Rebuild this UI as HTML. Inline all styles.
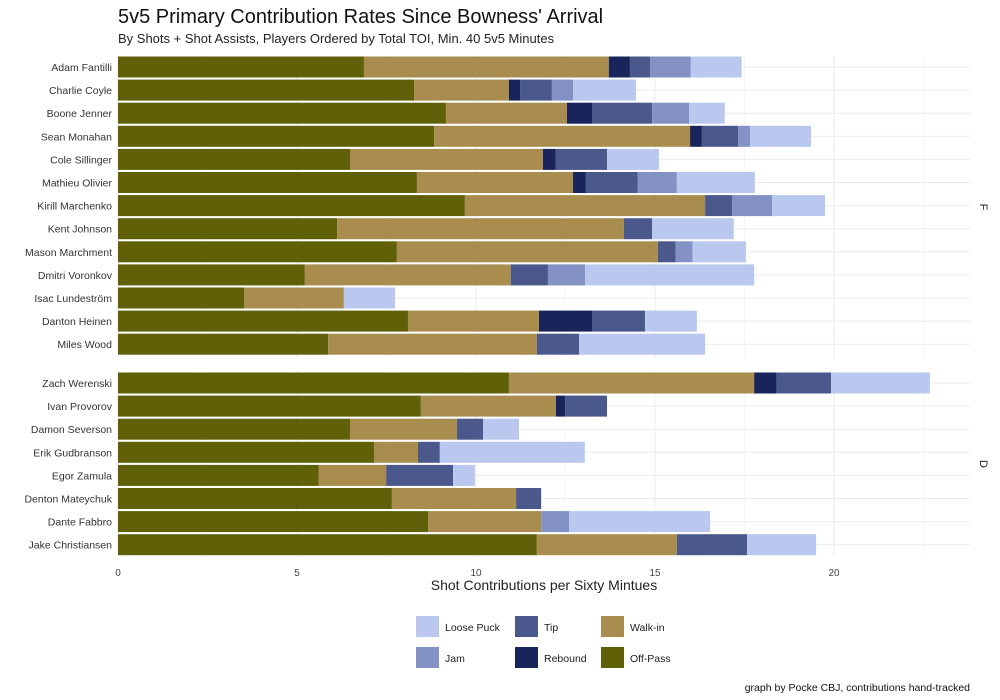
<!DOCTYPE html>
<html><head><meta charset="utf-8">
<style>
body{margin:0;background:#fff;font-family:"Liberation Sans",Arial,sans-serif;}
svg{display:block}
</style></head>
<body>
<svg id="chart" width="1000" height="700" xmlns="http://www.w3.org/2000/svg" font-family="Liberation Sans, Arial, sans-serif">
  <text x="118" y="23" font-size="20" fill="#111">5v5 Primary Contribution Rates Since Bowness' Arrival</text>
  <text x="118" y="43" font-size="13" fill="#222">By Shots + Shot Assists, Players Ordered by Total TOI, Min. 40 5v5 Minutes</text>
  <g id="grid"></g>
  <g id="bars"></g>
  <g id="labels"></g>
  <text x="980" y="207" font-size="11" fill="#222" transform="rotate(90 980 207)" text-anchor="middle">F</text>
  <text x="980" y="464" font-size="11" fill="#222" transform="rotate(90 980 464)" text-anchor="middle">D</text>
  <text x="544" y="590" font-size="14" fill="#222" text-anchor="middle">Shot Contributions per Sixty Mintues</text>
  <g id="legend"></g>
  <text x="970" y="691" font-size="10.5" fill="#111" text-anchor="end">graph by Pocke CBJ, contributions hand-tracked</text>
</svg>
<script>
const fwdPlayers=["Adam Fantilli","Charlie Coyle","Boone Jenner","Sean Monahan","Cole Sillinger","Mathieu Olivier","Kirill Marchenko","Kent Johnson","Mason Marchment","Dmitri Voronkov","Isac Lundeström","Danton Heinen","Miles Wood"];
const defPlayers=["Zach Werenski","Ivan Provorov","Damon Severson","Erik Gudbranson","Egor Zamula","Denton Mateychuk","Dante Fabbro","Jake Christiansen"];
const categories=["Off-Pass","Walk-in","Rebound","Tip","Jam","Loose Puck"];
const offPass=[6.87,8.27,9.16,8.83,6.48,8.35,9.69,6.12,7.79,5.22,3.52,8.1,5.87, 10.92,8.46,6.48,7.15,5.61,7.65,8.66,11.7];
const walkIn=[6.84,2.65,3.38,7.15,5.39,4.36,6.71,8.01,7.29,5.75,2.79,3.66,5.83, 6.85,3.77,2.99,1.23,1.88,3.47,3.16,3.91];
const rebound=[0.59,0.31,0.70,0.33,0.36,0.36,0,0,0,0,0,1.48,0, 0.63,0.26,0,0,0,0,0,0];
const tip=[0.56,0.89,1.68,1.01,1.43,1.45,0.75,0.79,0.50,1.04,0,1.48,1.18, 1.52,1.17,0.73,0.61,1.87,0.70,0,1.96];
const jam=[1.14,0.59,1.03,0.34,0,1.09,1.12,0,0.47,1.04,0,0,0, 0,0,0,0,0,0,0.78,0];
const loosePuck=[1.42,1.76,1.0,1.70,1.45,2.18,1.48,2.28,1.49,4.72,1.43,1.45,3.52, 2.76,0,1.0,4.05,0.61,0,3.94,1.93];
const xTicks=[0,5,10,15,20];

const colors={"Off-Pass":"#5f6008","Walk-in":"#a88d4f","Rebound":"#18245a","Tip":"#4a588c","Jam":"#8391c4","Loose Puck":"#bac8f0"};
const NS="http://www.w3.org/2000/svg";
const x0=118, pxPerUnit=35.8, plotRight=970;
const xs=v=>x0+v*pxPerUnit;
const panels=[{players:fwdPlayers,top:56,bottom:358,firstY:67,offset:0},{players:defPlayers,top:371,bottom:556,firstY:383,offset:fwdPlayers.length}];
const rowStep=23.1, barH=21;
function mk(tag,attrs,parent){const e=document.createElementNS(NS,tag);for(const k in attrs)e.setAttribute(k,attrs[k]);parent.appendChild(e);return e;}
const grid=document.getElementById('grid'),bars=document.getElementById('bars'),labels=document.getElementById('labels');
const series=[offPass,walkIn,rebound,tip,jam,loosePuck];
panels.forEach(p=>{
  for(let v=0;v<=23.75;v+=2.5){
    const gl=mk('line',{x1:xs(v),x2:xs(v),y1:p.top,y2:p.bottom,stroke:(v%5===0)?'#ebebeb':'#f3f3f3','stroke-width':(v%5===0)?1:0.8},grid);
    
    
  }
  p.players.forEach((name,i)=>{
    const cy=p.firstY+i*rowStep;
    const hl=mk('line',{x1:x0,x2:plotRight,y1:cy,y2:cy,stroke:'#ebebeb','stroke-width':1},grid);
    
    
    const t=mk('text',{x:112,y:cy+4,'font-size':10.5,fill:'#333','text-anchor':'end'},labels);
    t.textContent=name;
    
    
    let cum=0;
    const idx=p.offset+i;
    series.forEach((s,k)=>{
      const v=s[idx];
      if(v>0){
        const r=mk('rect',{x:xs(cum),y:cy-barH/2,width:v*pxPerUnit,height:barH,fill:colors[categories[k]]},bars);
        
        
      }
      cum+=v;
    });
  });
});
xTicks.forEach(v=>{
  const t=mk('text',{x:xs(v),y:576,'font-size':10,fill:'#444','text-anchor':'middle'},labels);
  t.textContent=v;
  
  
});
const legend=document.getElementById('legend');
const legendOrder=[["Loose Puck",416,616],["Jam",416,647],["Tip",515,616],["Rebound",515,647],["Walk-in",601,616],["Off-Pass",601,647]];
legendOrder.forEach(([c,lx,ly])=>{
  const r=mk('rect',{x:lx,y:ly,width:23,height:21,fill:colors[c]},legend);
  
  
  const t=mk('text',{x:lx+29,y:ly+15,'font-size':10.5,fill:'#222'},legend);
  t.textContent=c;
  
  
});
</script>
</body></html>
